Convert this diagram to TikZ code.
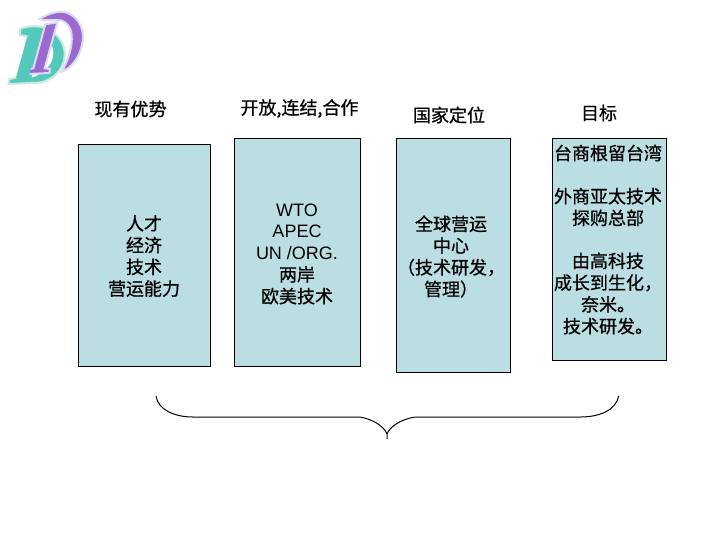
\documentclass[tikz,border=0pt]{standalone}
\usepackage{fontspec}
\setmainfont{Liberation Sans}
\newfontfamily\cjk[FakeBold=0.7]{Noto Sans CJK SC}
\definecolor{boxfill}{RGB}{187,222,226}
\definecolor{logopurple}{RGB}{155,105,208}
\definecolor{logoteal}{RGB}{84,200,186}
\definecolor{logohalo}{RGB}{218,218,242}
\definecolor{halogreen}{RGB}{200,232,228}
\tikzset{every picture/.style={line width=0.75pt}}
\tikzset{
  panel/.style={draw,fill=boxfill,line width=0.75pt},
  label/.style={inner sep=0.75pt,align=center,font=\fontsize{13.5}{16.3}\selectfont\cjk},
  latinlabel/.style={inner sep=0.75pt,align=center,font=\fontsize{13.5}{16.3}\selectfont},
  logoback/.style={fill=logopurple,draw=logohalo,line width=1.5pt},
  logofront/.style={fill=logoteal,draw=halogreen,line width=1.5pt}
}

\begin{document}
\begin{tikzpicture}[x=0.75pt,y=0.75pt,yscale=-1,xscale=1]
	\useasboundingbox (0,0) rectangle (720,540);

	%Logo
	\begin{scope}[shift={(0,5)},x=0.25pt,y=0.25pt]
		\draw [logoback] (118,42) .. controls (150,22) and (185,15) .. (205,25) .. controls (240,40) and (255,80) .. (247,115) .. controls (240,155) and (215,190) .. (185,200) .. controls (205,165) and (218,125) .. (215,90) .. controls (212,60) and (190,42) .. (170,45) .. controls (150,45) and (130,48) .. (118,42) -- cycle;
		\draw [logofront] (60,72) .. controls (85,60) and (130,60) .. (155,78) .. controls (185,100) and (198,130) .. (193,160) .. controls (188,200) and (150,230) .. (115,233) -- (25,237) -- (28,222) -- (50,218) -- (84,95) -- (60,90) -- cycle;
		\fill [white] (125,100) .. controls (145,100) and (160,120) .. (160,145) .. controls (160,175) and (135,205) .. (95,218) -- cycle;
		\draw [logoback] (136,58) -- (172,52) -- (134,190) -- (150,192) -- (148,204) -- (84,207) -- (88,192) -- (100,190) -- cycle;
		\fill [logoteal] (82,95) -- (118,88) -- (85,220) -- (48,220) -- cycle;
	\end{scope}

	%Panels
	\draw [panel] (78.5,144.5) rectangle (210.5,366);
	\draw [panel] (234.5,138.5) rectangle (360,366);
	\draw [panel] (396.5,138.5) rectangle (510.5,372.5);
	\draw [panel] (552.5,138.5) rectangle (666.5,360.5);

	%Headings
	\node [label] (headA) at (130.5,109) {现有优势};
	\node [label] (headB) at (299.5,108.5) {开放,连结,合作};
	\node [label] (headC) at (449,115) {国家定位};
	\node [label] (headD) at (599,113) {目标};

	%Panel texts
	\node [label] (textA) at (144,256) {人才\\经济\\技术\\营运能力};
	\node [latinlabel] (textB) at (297,254) {WTO\\APEC\\UN /ORG.\\{\cjk 两岸}\\{\cjk 欧美技术}};
	\node [label] (textC) at (451,256.5) {全球营运\\中心\\（技术研发，\\管理）};
	\node [label] (textD) at (608,153) {台商根留台湾};
	\node [label] (textE) at (608,207) {外商亚太技术\\探购总部};
	\node [label] (textF) at (608,293.5) {由高科技\\成长到生化，\\奈米。\\技术研发。};

	%Brace
	\draw (156,396) .. controls (158,410) and (175,417) .. (193,417) -- (360,417) .. controls (372,419) and (384,426) .. (387,434) -- (387,439);
	\draw (387,434) .. controls (390,426) and (402,419) .. (415,417) -- (580,417) .. controls (600,417) and (616,410) .. (618.7,396);
\end{tikzpicture}
\end{document}
